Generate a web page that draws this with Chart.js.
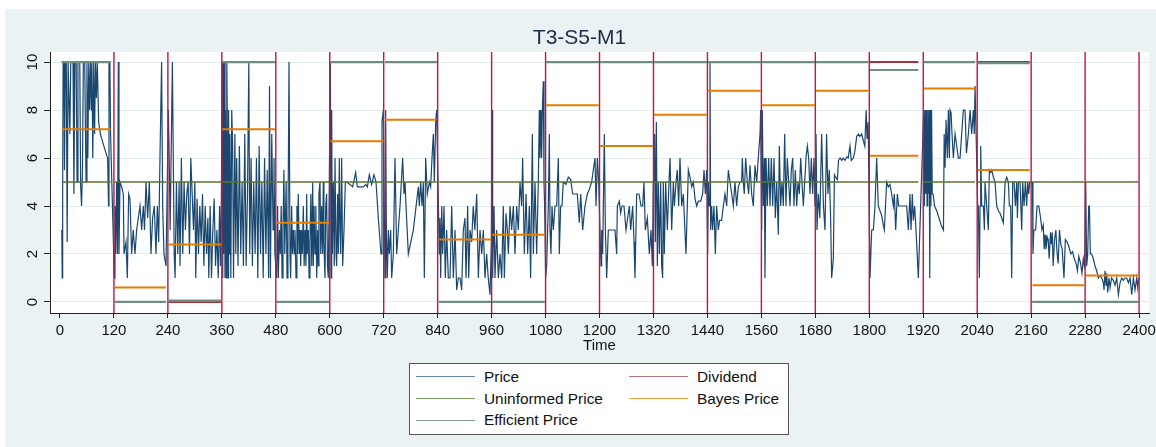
<!DOCTYPE html>
<html>
<head>
<meta charset="utf-8">
<script src="https://cdn.jsdelivr.net/npm/chart.js@4.4.1/dist/chart.umd.min.js"></script>
<style>
  body { margin: 0; background: #fff; }
  #wrap { position: relative; width: 1156px; height: 447px; font-family: "Liberation Sans", Arial, sans-serif; }
  #legend { position: absolute; left: 409px; top: 363px; width: 378px; height: 70px; background: #fff; border: 1px solid #555; }
  .key { position: absolute; width: 59px; height: 0; border-top: 1.4px solid; }
  .lbl { position: absolute; font-size: 15.4px; line-height: 18px; color: #111; white-space: nowrap; }
</style>
</head>
<body>
<div id="wrap">
  <canvas id="c" width="1156" height="447"></canvas>
  <div id="legend"></div>
</div>
<script>
// Trading session T3-S5-M1: 20 periods of 120 seconds each.
const periodStart = [0, 120, 240, 360, 480, 600, 720, 840, 960, 1080, 1200, 1320, 1440, 1560, 1680, 1800, 1920, 2040, 2160, 2280];
const periodEnd = [120, 240, 360, 480, 600, 720, 840, 960, 1080, 1200, 1320, 1440, 1560, 1680, 1800, 1920, 2040, 2160, 2280, 2400];

// One value per period.
const dividend = [10, 0, 0, 10, 0, 10, 10, 0, 0, 10, 10, 10, 10, 10, 10, 10, 10, 10, 0, 0];
const uninformedPrice = [5, 5, 5, 5, 5, 5, 5, 5, 5, 5, 5, 5, 5, 5, 5, 5, 5, 5, 5, 5];
const bayesPrice = [7.2, 0.6, 2.4, 7.2, 3.3, 6.7, 7.6, 2.6, 2.8, 8.2, 6.5, 7.8, 8.8, 8.2, 8.8, 6.1, 8.9, 5.5, 0.7, 1.1];
const efficientPrice = [10, 0, 0.06, 10, 0, 10, 10, 0, 0, 10, 10, 10, 10, 10, 10, 9.67, 10, 9.96, 0, 0];

// Traded price, [time, price] pairs.
const price = [
  // 0-120
  [4,3],[5,1],[6,5],[7,10],[9,10],[10,5.5],[12,10],[14,10],[16,2.5],[18,10],[20,10],[22,7],[24,10],[26,10],[29,10],[31,4.5],[33,10],[36,10],[38,5],[40,10],[44,10],[46,4.8],[48,4],[50,5.5],[52,10],[55,10],[58,5],[60,10],[62,6],[64,10],[66,8],[68,10],[70,8],[71,10],[73,6],[75,10],[77,7],[79,10],[81,8.5],[83,10],[86,7.5],[90,7],[96,6.6],[104,6.1],[106,6],[108,4],[109,10],[111,10],[112.5,7],
  // 120-240
  [120.9,1],[122.3,4],[124,2],[126,5],[128,2],[129.8,10],[131.2,2],[133.5,5],[137.2,4.8],[140.9,4.5],[142.4,2],[146.8,2.5],[149.8,1],[152.7,4.5],[155.7,4.3],[159.4,2],[163,3],[166.8,2],[170.5,3],[174.2,3.5],[178,4],[181.6,3],[185.3,4],[188,3],[191.3,5],[195,3.5],[198.7,5],[202.4,2],[206,3.5],[209.8,4],[213.5,2],[216.5,4],[219.5,2.5],[222.4,6],[226,10],[228.4,4],[231.3,2],[235.8,1.5],
  // 240-360
  [241,8],[243,6],[245,3],[250,10],[254,2],[256,1],[259,5],[262,2],[265,5],[267,1.5],[270,6],[273,2],[276,5],[279,3],[282,4.5],[285,5],[288,2],[291,6],[294,4.5],[297,3],[300,5],[302,1],[305,4.3],[308,2],[311,4],[314,2.5],[317,4.5],[320,1.5],[323,4],[326,2],[329,3.5],[331,1],[334,4],[337,1],[340,3],[343,4.3],[346,1.5],[349,3],[352,1],[355,4],[357,1.5],[359,4.5],
  // 360-480
  [361,10],[362,1],[363,10],[364,2],[366,10],[367,1],[368,8],[370,1],[371,10],[372,8],[374,1],[375,8],[377,2],[378,7],[380,1],[382,8],[384,6.5],[386,1],[389,7],[391,2],[393,6],[396,1.5],[399,6.5],[402,2],[405,5],[408,1.5],[411,7],[414,1.5],[417,4.5],[420,10],[422,2],[425,6],[428,1.5],[431,5],[434,2],[437,6],[440,1],[443,6.5],[446,2],[449,5],[452,1],[455,6],[458,2],[461,5.5],[464,1],[466,9],[468,1],[471,7],[474,3],[476,6],[478,2],
  // 480-600
  [481.9,1],[484,4],[485.6,1],[488,3],[490,2],[492,4],[494,1],[496,3],[498,5.5],[500,2],[503,5],[505,1],[507,3],[509.4,10],[511.6,2],[513,1],[515.3,4],[517,2],[519,3],[521,2],[522.7,3],[525,1],[527,4],[528.6,2],[530,4.5],[532.3,2],[534,3],[535.3,1.5],[537,3],[539,2],[541.2,4],[543,1.5],[545,3],[547,1.5],[548.7,4.5],[550,2],[552.4,3],[554,1],[556,2.5],[558,4.5],[560,1.5],[562,5],[563.5,1.5],[565,4],[567.2,2],[569,4],[571,1],[573,3],[574.6,1.5],[576,4.5],[578.3,5],[580,2],[582,4],[584,2],[585.7,5],[587,2.5],[589.4,1],[591,4],[593,4.5],[595,1.5],[596.8,1],[599,5],
  // 600-720
  [601.3,10],[602.8,1],[604.3,8],[605.7,2],[608,5],[610,1.5],[611.7,6],[614,2],[615.4,1.5],[617.6,4.5],[619,2],[621.3,6],[622.8,3],[624.3,2],[626.5,6],[628.7,1.5],[631.7,3],[634.7,5],[637.6,5],[645,4.9],[651,4.8],[657.6,5.4],[661.3,4.8],[667.3,4.8],[674.7,4.8],[680,4.9],[683.6,4.8],[688,5.3],[693.2,4.9],[698.4,5.3],[702.9,5],[708,3.5],[714,2],[716.2,7.5],[719.2,8],
  // 720-840
  [722.9,1],[724.4,8],[725.9,3],[728,1],[730.3,3],[732.5,2],[735.5,3],[737.7,1],[741.4,2],[745.1,6],[748.8,2],[752.5,3],[756.3,4],[762.2,6],[765.1,4.5],[767.4,5],[769.6,4],[774.8,2],[785.9,3],[797,4.8],[799.2,4],[802.2,5],[805.2,4],[808.1,5],[810.4,1],[813.3,6],[817,4.5],[821.5,5],[824.4,4.8],[827.4,6],[830.4,7],[832.6,5],[835.6,7.5],[837.8,8],
  // 840-960
  [843.7,2],[845.2,3.5],[846.7,1],[849,4],[851.1,2],[854.1,4],[857,1],[860,3],[863.7,1],[867.5,1],[871.2,4],[874.9,1],[878.6,3],[882.3,0.5],[886,1],[889.7,1],[893.4,0.5],[897.1,3],[900.8,3.5],[903,1],[906.7,4],[909,1],[912,3],[915.6,2.5],[919.1,4],[922.8,3],[926.8,4.5],[930.5,1],[934.2,3],[937.9,2],[941.6,3],[945.3,1],[949,2],[952.5,1],[956.4,0.3],[959.4,2.5],
  // 960-1080
  [961,8],[962.3,1],[965.3,4],[967.5,1],[971.2,3],[975,1],[978.6,2],[982.4,1],[986,4],[988.3,1],[992,3.7],[995,3],[997.2,2],[1000.9,4],[1004.6,3],[1008.3,4],[1012,2],[1015.7,4],[1019.4,3],[1023.1,5],[1026.8,4],[1029,6],[1032.8,2],[1036.5,4.5],[1040.2,2],[1043.9,4],[1046.8,1],[1050.6,7],[1052.8,2],[1056.5,5],[1060.2,2],[1063.9,5],[1066.1,8],[1067.6,6],[1069.8,8],[1071.3,6],[1072.8,8],[1075,9.2],[1076.5,5],[1077.9,4],
  // 1080-1200
  [1080.2,1],[1082.4,1.5],[1086.1,4],[1088.4,7],[1089.9,3],[1092,2],[1094.3,4],[1097.3,3],[1101,4],[1104.7,4],[1108.4,6],[1110.6,2],[1113.6,4],[1116.5,4],[1119.5,5],[1125.4,4.9],[1130.6,5.2],[1135.8,5.1],[1140.3,4.5],[1145.5,4.5],[1150.6,4.5],[1155.1,3.3],[1158.1,4.5],[1162.5,3],[1167.7,4],[1172.9,4.5],[1177.3,4.7],[1182.5,5],[1186.2,5.5],[1190,6],[1192.2,4],[1195.1,6],[1198.1,5],
  // 1200-1320
  [1201,3],[1203.3,1.5],[1204.8,3],[1207,2],[1210.7,7],[1213,3],[1215.9,1],[1219.6,3],[1227,3],[1234.4,3],[1238.1,2],[1239.6,4],[1244,4.2],[1247,3.7],[1250,4],[1254.4,4],[1258.9,3],[1262.6,3.5],[1266.3,4],[1269.3,3],[1273.7,4],[1276.7,2.5],[1278.9,1],[1282.6,4.5],[1287.8,4.5],[1292.3,4],[1296,4],[1298.9,5],[1301.9,3],[1306.3,3.5],[1310.8,2],[1314.5,3],[1317.5,1.5],[1319.7,5],
  // 1320-1440
  [1321.2,5],[1322.6,7],[1324.1,2.5],[1326.4,7.5],[1328.6,1.5],[1330.8,5],[1333.1,2],[1336,5],[1338.2,1.5],[1340.4,1],[1341.9,5],[1344.1,2],[1347.1,5],[1350.8,3],[1354.5,5],[1356.8,6],[1360.5,3],[1364.2,5],[1366.4,4],[1370.1,5],[1373,5.5],[1376,4],[1379,6],[1382.7,4],[1386.4,4.5],[1392.3,2],[1397.5,5.5],[1401.2,5.2],[1405,4.8],[1408.7,5],[1412.4,4.3],[1416.1,4],[1419.8,4.2],[1425,4.2],[1429.4,4.5],[1432.4,5.5],[1435.3,4.5],[1438.3,5.5],[1440.5,2],
  // 1440-1560
  [1442,5],[1443.5,4],[1445.7,10],[1447.2,3],[1449.4,4],[1451.6,3],[1454.6,4],[1457.6,2],[1460.5,4],[1464.2,3],[1467,3.4],[1471.6,3.4],[1475.4,4],[1479,4.5],[1482.8,4],[1486.5,5.5],[1490.2,5],[1494,4.5],[1497.6,4],[1501.3,5],[1505,4],[1508.7,4.8],[1512.4,5],[1516.1,5],[1517.6,6],[1519.8,5],[1522,4.5],[1525,6],[1528.7,5],[1531.7,4.5],[1534.7,5.7],[1538.4,4.5],[1542,4],[1545.8,5.7],[1549.5,5],[1553.2,6],[1556.9,7],[1558.4,8],[1560.6,3],
  // 1560-1680
  [1562.1,8],[1564.3,4],[1566.6,6],[1568,1],[1570.3,6],[1573.2,4],[1576.2,6],[1579.2,4],[1582.1,6],[1585.1,4],[1588.1,6],[1591,3.5],[1594,5],[1597.7,2.8],[1599.9,6.5],[1602.9,4],[1605.8,5],[1608.8,4],[1611.8,7],[1614.7,4],[1617.7,6],[1620.7,5],[1623.6,4],[1626.6,5.5],[1629.6,6],[1632.5,4],[1635.5,5.5],[1638.5,4],[1641.4,5],[1644.4,4.5],[1647.4,6],[1650.3,5],[1653.3,4],[1656.3,5],[1659.2,6],[1662.2,6.5],[1665.2,6],[1668.1,4.5],[1671.1,6],[1674,4.5],[1677,6],[1679.2,4],
  // 1680-1800
  [1681.5,7],[1683.7,3],[1686.7,4.5],[1690,3.5],[1694,7],[1698,4],[1701.5,3],[1705,7],[1708,4.5],[1711,5.5],[1714,3.5],[1716.3,1],[1720,1.8],[1722.5,5.3],[1725,5.2],[1729,5.1],[1731.5,5.9],[1735,6],[1738.6,5.9],[1742,6],[1746,5.9],[1749.7,6.05],[1753,6],[1757,6.5],[1760,5.9],[1764.5,6],[1768,6.3],[1772,6.9],[1775.6,7],[1779,6.9],[1783,7],[1787,6.7],[1790,6.5],[1793,8],[1795,6.8],[1797.5,7.5],
  // 1800-1920
  [1801.6,1],[1805.3,3],[1809,3],[1812.7,4],[1816.4,6],[1820.1,4],[1823.8,3.8],[1827.5,3.6],[1831.2,3.2],[1833.5,3],[1838.6,5],[1842.3,4.8],[1846,4.9],[1849.8,4.5],[1853.5,4],[1855.7,4.5],[1858.7,3],[1862.4,4.5],[1865.3,4],[1868.3,4],[1872,4],[1875.7,4],[1879.4,4],[1883.1,4],[1886.8,3],[1890.5,4.5],[1892.8,3],[1895.7,4.5],[1898,3.4],[1900.9,4],[1903.9,3],[1909.1,1],
  // 1920-2040
  [1921,8],[1922.5,4],[1924,8],[1925.5,4.5],[1927,8],[1928.5,4],[1930,8],[1931.5,4.5],[1933,8],[1934.5,1],[1936,8],[1937,4],[1938.5,8],[1940,4.5],[1942,4.5],[1945,4],[1950,3.8],[1955,3.5],[1960,3.2],[1965,3],[1966.5,7],[1968.5,5.6],[1970.7,7.6],[1973.7,6],[1975.9,8],[1978.1,6],[1979.6,8],[1981.8,7.9],[1984,7],[1987,6],[1990.7,7],[1994.4,6.5],[1998.1,6],[2001.8,6],[2005.5,7],[2009.2,8],[2013,8],[2016,6.2],[2020.4,7],[2024.1,8],[2027.8,7],[2031.5,8],[2033.5,7],[2035.2,9],
  // 2040-2160
  [2041.1,4],[2042.6,4],[2044.8,1],[2046.3,4],[2047.8,6.5],[2050,4],[2053.7,4],[2056,3],[2057.4,5],[2061.1,4],[2064.8,3],[2067,5.5],[2070,5.4],[2072.3,5.5],[2076,5.2],[2079.7,5],[2083.4,4],[2087.1,3.8],[2090.8,3.7],[2094.5,3.5],[2098.2,3.3],[2102,5],[2105.6,5.2],[2109.3,5],[2111.6,4],[2114.5,4],[2116.7,1],[2119,5],[2122,5],[2124.9,4],[2127.9,5],[2129.4,3.5],[2131.6,5],[2135.3,5],[2139,3],[2141.2,5],[2144.2,4],[2147.1,5],[2150.1,4],[2152.3,5],[2154.5,4.5],[2156.8,5],
  // 2160-2280
  [2163,5],[2164,2],[2166,3],[2170,3],[2173,4],[2177,4],[2181,3.5],[2184,3],[2187,3.2],[2189,2.2],[2191,2.8],[2193,2.2],[2196,2.7],[2198,2.6],[2200,1.8],[2203,2.9],[2205,2.4],[2207,2.9],[2209,1.5],[2212,2.6],[2215,3],[2217,2.2],[2220,1.6],[2223,3],[2226,2.4],[2229,2.2],[2233,1],[2236,2.6],[2240,2.5],[2244,2.3],[2248,2],[2252,2.1],[2256,1.8],[2260,1.6],[2263,1.3],[2266,1.9],[2270,1.6],[2273,1.2],[2276,1.8],[2279,1.4],
  // 2280-2400
  [2281.3,5],[2283.5,1.5],[2285.8,2],[2288,4],[2289.5,4],[2291.7,2],[2294.7,2],[2298.4,1.8],[2302,1.5],[2305.8,1.3],[2309.5,1],[2313.2,1.1],[2317,1],[2320.6,0.8],[2322.1,0.5],[2324.3,1.3],[2326.5,0.7],[2328,1.2],[2330.3,0.4],[2333.2,1],[2335.5,0.6],[2339,1],[2342.8,0.9],[2346.6,0.7],[2350.3,1],[2354,0.3],[2357.7,0.8],[2361.4,1],[2365,0.9],[2368.8,1],[2372.5,1],[2376.2,0.8],[2380,1],[2383.7,0.3],[2387.4,1],[2391,0.5],[2394.8,1],[2397,0.6],[2399.2,1],
];

const timeTicks = [0, 120, 240, 360, 480, 600, 720, 840, 960, 1080, 1200, 1320, 1440, 1560, 1680, 1800, 1920, 2040, 2160, 2280, 2400];
const priceTicks = [0, 2, 4, 6, 8, 10];

const X_MIN = -22.2, X_MAX = 2422.1;
const Y_MIN = -0.46, Y_MAX = 10.42;

// Per-period flat segment, running from the first to the last trade of the period.
function periodSegments(values) {
  const pts = [];
  values.forEach((v, i) => {
    const inPeriod = price.filter((p) => p[0] > periodStart[i] && p[0] <= periodEnd[i]);
    const first = inPeriod[0][0];
    const last = inPeriod[inPeriod.length - 1][0];
    pts.push({ x: first, y: v }, { x: last, y: v }, { x: last, y: null });
  });
  return pts;
}

// Vertical marker at every period boundary.
const boundaryLines = [];
for (const b of periodEnd) {
  boundaryLines.push({ x: b, y: Y_MIN }, { x: b, y: Y_MAX }, { x: b, y: null });
}

// Stata-like backdrop: light outer frame, white plot region.
const backdrop = {
  id: "backdrop",
  beforeDraw(chart) {
    const { ctx, chartArea: a } = chart;
    ctx.save();
    ctx.fillStyle = "#ffffff";
    ctx.fillRect(0, 0, chart.width, chart.height);
    ctx.fillStyle = "#eaf2f3";
    ctx.fillRect(5, 9, chart.width - 5, chart.height - 9);
    ctx.fillStyle = "#ffffff";
    ctx.fillRect(a.left, a.top, a.right - a.left, a.bottom - a.top);
    ctx.restore();
  },
};

Chart.defaults.font.family = '"Liberation Sans", Arial, sans-serif';

const line = (extra) => Object.assign({ pointRadius: 0, tension: 0, fill: false, spanGaps: false }, extra);

new Chart(document.getElementById("c"), {
  type: "line",
  data: {
    datasets: [
      line({ label: "Price", data: price.map((p) => ({ x: p[0], y: p[1] })), borderColor: "#1a476f", borderWidth: 1.2, order: 6 }),
      line({ label: "boundary", data: boundaryLines, borderColor: "#c7123f", borderWidth: 1.4, order: 5 }),
      line({ label: "Dividend", data: periodSegments(dividend), borderColor: "#a8303f", borderWidth: 2, order: 4 }),
      line({ label: "Uninformed Price", data: periodSegments(uninformedPrice), borderColor: "#55752f", borderWidth: 1.7, order: 3 }),
      line({ label: "Bayes Price", data: periodSegments(bayesPrice), borderColor: "#e37e00", borderWidth: 2, order: 2 }),
      line({ label: "Efficient Price", data: periodSegments(efficientPrice), borderColor: "#6e8e84", borderWidth: 2.2, order: 1 }),
    ],
  },
  options: {
    responsive: false,
    animation: false,
    events: [],
    layout: { padding: { left: 10, right: 7, top: 9, bottom: 84 } },
    plugins: {
      legend: { display: false },
      tooltip: { enabled: false },
      title: {
        display: true,
        text: "T3-S5-M1",
        color: "#1e2b48",
        font: { size: 21, weight: "normal" },
        padding: { top: 16.4, bottom: 1.4 },
      },
    },
    scales: {
      x: {
        type: "linear",
        min: X_MIN,
        max: X_MAX,
        afterBuildTicks: (s) => { s.ticks = timeTicks.map((v) => ({ value: v })); },
        // fixed axis box, and no extra room reserved for the end labels
        afterFit: (s) => { s.height = 50; s.paddingLeft = 0; s.paddingRight = 0; },
        ticks: { font: { size: 15 }, color: "#111", padding: 4, maxRotation: 0, autoSkip: false, callback: (v) => String(v) },
        grid: { drawOnChartArea: false, tickLength: 5, tickColor: "#222" },
        border: { color: "#222", width: 1 },
        title: { display: true, text: "Time", color: "#111", font: { size: 15 }, padding: { top: 0, bottom: 8 } },
      },
      y: {
        min: Y_MIN,
        max: Y_MAX,
        afterBuildTicks: (s) => { s.ticks = priceTicks.map((v) => ({ value: v })); },
        afterFit: (s) => { s.width = 40; s.paddingTop = 0; s.paddingBottom = 0; },
        ticks: { font: { size: 15 }, color: "#111", minRotation: 90, maxRotation: 90, crossAlign: "center", padding: 3, callback: (v) => String(v) },
        grid: { color: "#e4eef0", lineWidth: 1, tickLength: 6, tickColor: "#222" },
        border: { color: "#222", width: 1 },
      },
    },
  },
  plugins: [backdrop],
});

// HTML legend: two columns inside a white box, like the Stata original.
const legendItems = [
  { text: "Price", color: "#6a86a6", col: 0, row: 0 },
  { text: "Dividend", color: "#b47676", col: 1, row: 0 },
  { text: "Uninformed Price", color: "#7b9a5e", col: 0, row: 1 },
  { text: "Bayes Price", color: "#f0a040", col: 1, row: 1 },
  { text: "Efficient Price", color: "#7e9c92", col: 0, row: 2 },
];
const rowMid = [12.7, 35, 56.3];
const keyLeft = [6, 219];
const textLeft = [74, 287];
const legendEl = document.getElementById("legend");
for (const it of legendItems) {
  const k = document.createElement("div");
  k.className = "key";
  k.style.left = keyLeft[it.col] + "px";
  k.style.top = rowMid[it.row] - 0.7 + "px";
  k.style.borderTopColor = it.color;
  legendEl.appendChild(k);
  const t = document.createElement("span");
  t.className = "lbl";
  t.style.left = textLeft[it.col] + "px";
  t.style.top = rowMid[it.row] - 9 + "px";
  t.textContent = it.text;
  legendEl.appendChild(t);
}
</script>
</body>
</html>
